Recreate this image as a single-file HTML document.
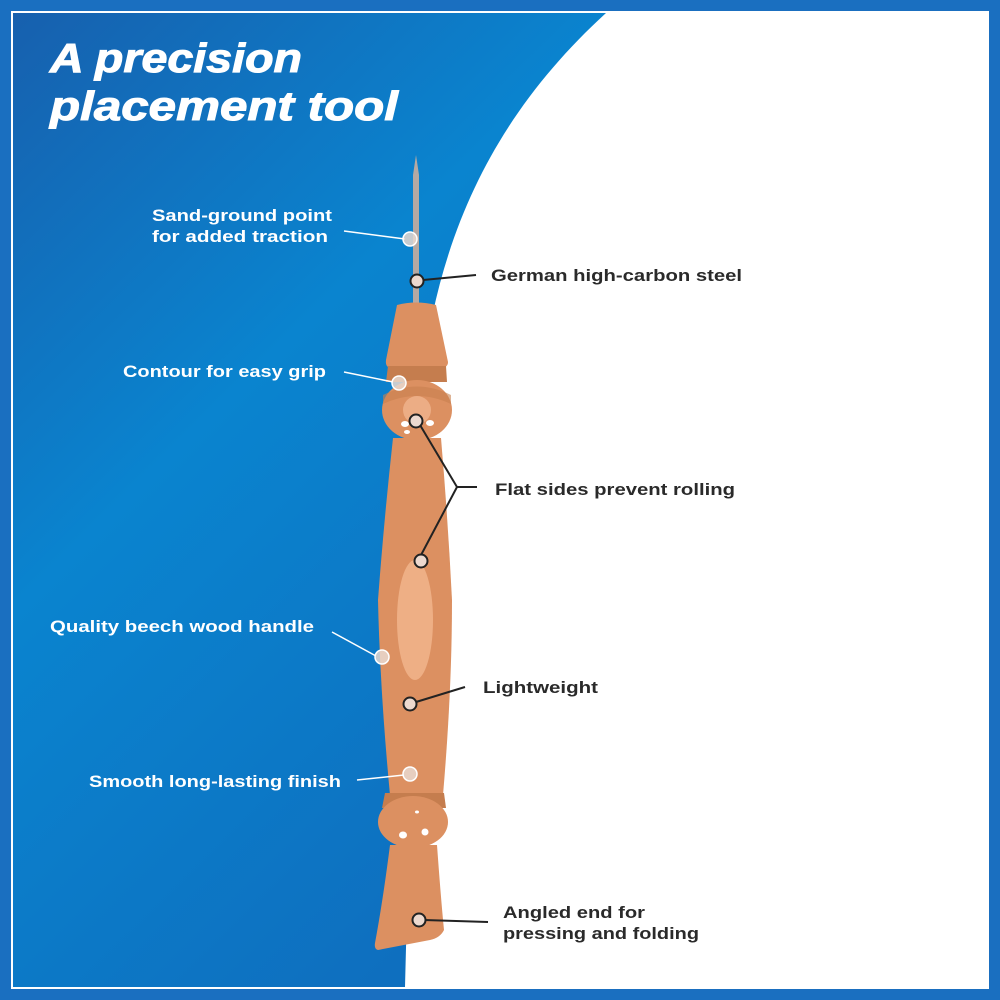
<!DOCTYPE html>
<html><head><meta charset="utf-8"><style>
html,body{margin:0;padding:0;width:1000px;height:1000px;overflow:hidden;background:#1a6fc0}
svg{display:block}
text{font-family:"Liberation Sans",sans-serif;font-weight:bold}
</style></head><body>
<svg width="1000" height="1000" viewBox="0 0 1000 1000">
<defs>
<linearGradient id="bg" x1="0" y1="0" x2="0.6" y2="1">
<stop offset="0" stop-color="#1760ae"/>
<stop offset="0.45" stop-color="#0a84cf"/>
<stop offset="1" stop-color="#0e6fbf"/>
</linearGradient>
</defs>
<rect x="0" y="0" width="1000" height="1000" fill="#1a6fc0"/>
<rect x="11" y="11" width="978" height="978" fill="#fff"/>
<path d="M13 13 L606 13 C500 110 435 230 420 400 L405 987 L13 987 Z" fill="url(#bg)"/>
<text x="50" y="72" fill="#fff" font-size="41" font-style="italic" textLength="252" lengthAdjust="spacingAndGlyphs" stroke="#fff" stroke-width="1">A precision</text>
<text x="50" y="120" fill="#fff" font-size="41" font-style="italic" textLength="348" lengthAdjust="spacingAndGlyphs" stroke="#fff" stroke-width="1">placement tool</text>

<path d="M413 305 L413 175 L416 155 L419 175 L419 305 Z" fill="#b5a9a3"/>
<path d="M397 305 Q416 300 436 305 L448 362 Q448 368 440 368 L392 368 Q385 368 386 360 Z" fill="#dc9061"/>
<path d="M388 366 L446 366 L447 382 L386 382 Z" fill="#c57d4e"/>
<ellipse cx="417" cy="410" rx="35" ry="30" fill="#dc9061"/>
<path d="M383 404 Q417 388 451 404 L451 395 Q417 378 383 395 Z" fill="#c8804f" opacity="0.6"/>
<circle cx="417" cy="410" r="14" fill="#f0b48e" opacity="0.8"/>
<ellipse cx="405" cy="424" rx="4" ry="3" fill="#fff"/><ellipse cx="430" cy="423" rx="4" ry="3" fill="#fff"/><ellipse cx="407" cy="432" rx="3" ry="2" fill="#fff"/>
<path d="M393 438 L441 438 Q448 520 452 600 Q452 690 443 795 L390 795 Q380 690 378 600 Q384 520 393 438 Z" fill="#dc9061"/>
<ellipse cx="415" cy="620" rx="18" ry="60" fill="#f2b68f" opacity="0.8"/>
<path d="M385 793 L444 793 L446 808 L382 808 Z" fill="#c57d4e"/>
<ellipse cx="413" cy="822" rx="35" ry="26" fill="#dc9061"/>
<ellipse cx="403" cy="835" rx="4" ry="3.5" fill="#fff"/><ellipse cx="425" cy="832" rx="3.5" ry="3.5" fill="#fff"/><ellipse cx="417" cy="812" rx="2" ry="1.5" fill="#fff"/>
<path d="M390 845 L437 845 Q441 900 444 930 Q440 938 430 940 L378 950 Q374 949 375 943 Q383 900 390 845 Z" fill="#dc9061"/>

<g stroke="#fff" stroke-width="1.5" fill="none">
<line x1="344" y1="231" x2="405" y2="239"/>
<line x1="344" y1="372" x2="393" y2="382"/>
<line x1="332" y1="632" x2="376" y2="656"/>
<line x1="357" y1="780" x2="404" y2="775"/>
</g>
<g fill="#e9d9d0" fill-opacity="0.85" stroke="#fff" stroke-width="1.5">
<circle cx="410" cy="239" r="7"/>
<circle cx="399" cy="383" r="7"/>
<circle cx="382" cy="657" r="7"/>
<circle cx="410" cy="774" r="7"/>
</g>
<g stroke="#222" stroke-width="2" fill="none">
<line x1="423" y1="280" x2="476" y2="275"/>
<polyline points="420,425 457,487 420,557"/>
<line x1="457" y1="487" x2="477" y2="487"/>
<line x1="416" y1="702" x2="465" y2="687"/>
<line x1="424" y1="920" x2="488" y2="922"/>
</g>
<g fill="#ecd9cf" stroke="#222" stroke-width="2">
<circle cx="417" cy="281" r="6.5"/>
<circle cx="416" cy="421" r="6.5"/>
<circle cx="421" cy="561" r="6.5"/>
<circle cx="410" cy="704" r="6.5"/>
<circle cx="419" cy="920" r="6.5"/>
</g>
<g fill="#fff" font-size="17">
<text x="152" y="221" textLength="180" lengthAdjust="spacingAndGlyphs">Sand-ground point</text>
<text x="152" y="242" textLength="176" lengthAdjust="spacingAndGlyphs">for added traction</text>
<text x="123" y="377" textLength="203" lengthAdjust="spacingAndGlyphs">Contour for easy grip</text>
<text x="50" y="632" textLength="264" lengthAdjust="spacingAndGlyphs">Quality beech wood handle</text>
<text x="89" y="787" textLength="252" lengthAdjust="spacingAndGlyphs">Smooth long-lasting finish</text>
</g>
<g fill="#2a2a2a" font-size="17">
<text x="491" y="281" textLength="251" lengthAdjust="spacingAndGlyphs">German high-carbon steel</text>
<text x="495" y="495" textLength="240" lengthAdjust="spacingAndGlyphs">Flat sides prevent rolling</text>
<text x="483" y="693" textLength="115" lengthAdjust="spacingAndGlyphs">Lightweight</text>
<text x="503" y="918" textLength="142" lengthAdjust="spacingAndGlyphs">Angled end for</text>
<text x="503" y="939" textLength="196" lengthAdjust="spacingAndGlyphs">pressing and folding</text>
</g>
</svg>
</body></html>
